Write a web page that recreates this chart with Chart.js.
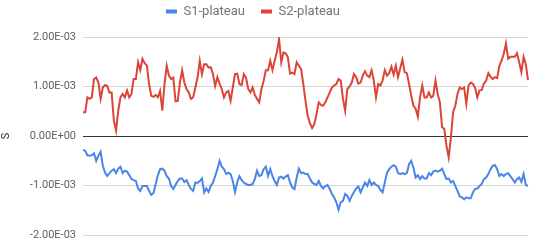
<!DOCTYPE html>
<html>
<head>
<meta charset="utf-8">
<script src="https://cdn.jsdelivr.net/npm/chart.js@4.4.1/dist/chart.umd.min.js"></script>
<style>
html,body{margin:0;padding:0;background:#fff;}
#wrap{position:relative;width:539px;height:246px;}
</style>
</head>
<body>
<div id="wrap"><canvas id="c" width="539" height="246"></canvas></div>
<script>
// Series values in units of 1E-03
const s2Plateau = [
0.48,0.48,0.78,0.75,0.78,1.15,1.18,1.08,0.75,0.98,
1.03,1.01,0.88,0.88,0.31,0.11,0.51,0.78,0.85,0.78,
0.92,0.78,0.85,1.15,1.15,1.49,1.33,1.56,1.47,1.42,
1.05,0.81,0.79,0.83,0.78,0.91,0.51,1.05,1.42,1.22,
1.15,1.18,0.70,0.71,1.08,1.33,1.08,0.95,0.88,0.75,
0.78,0.98,1.18,1.52,1.25,1.45,1.45,1.38,1.39,1.25,
1.01,1.19,1.06,0.95,0.78,0.88,0.91,0.71,0.98,1.25,
1.26,1.05,1.03,1.25,1.18,0.95,0.88,0.98,0.83,0.75,
0.68,0.95,1.11,1.33,1.33,1.52,1.33,1.52,1.69,1.96,
1.49,1.69,1.67,1.59,1.26,1.28,1.25,1.49,1.42,1.35,
1.05,0.71,0.41,0.26,0.16,0.24,0.44,0.68,0.63,0.61,
0.68,0.78,0.88,0.98,1.02,1.05,1.15,1.12,0.75,0.51,
0.95,1.00,1.08,1.25,1.19,1.06,1.08,1.22,1.31,1.22,
1.19,1.33,1.12,0.78,1.05,1.02,1.12,1.33,1.22,1.27,
1.40,1.24,1.42,1.19,1.37,1.54,1.29,1.27,1.05,0.81,
0.61,0.55,0.39,0.78,1.02,0.78,0.78,0.88,0.78,0.81,
1.12,0.85,0.68,0.18,0.14,-0.20,-0.43,-0.03,0.48,0.61,
0.85,0.98,0.95,0.98,0.65,1.02,1.08,1.05,0.97,0.78,
0.92,0.93,1.06,1.12,1.27,1.20,1.15,1.19,1.17,1.42,
1.52,1.66,1.87,1.56,1.60,1.60,1.60,1.67,1.49,1.29,
1.60,1.45,1.13
];
const s1Plateau = [
-0.28,-0.30,-0.39,-0.40,-0.39,-0.35,-0.50,-0.40,-0.32,-0.60,
-0.74,-0.81,-0.75,-0.70,-0.67,-0.75,-0.66,-0.62,-0.75,-0.70,
-0.72,-0.79,-0.87,-0.89,-0.91,-1.06,-1.11,-1.01,-1.01,-1.01,
-1.11,-1.19,-1.15,-0.97,-0.79,-0.67,-0.66,-0.70,-0.81,-0.86,
-1.01,-1.07,-0.99,-0.91,-0.86,-0.86,-0.93,-0.89,-0.99,-1.07,
-1.11,-0.94,-0.95,-0.91,-0.86,-1.14,-1.06,-1.13,-1.01,-0.94,
-0.81,-0.67,-0.50,-0.62,-0.67,-0.77,-0.74,-0.77,-0.91,-1.13,
-0.94,-0.81,-0.89,-0.94,-0.97,-0.99,-0.99,-0.97,-0.87,-0.70,
-0.81,-0.79,-0.67,-0.62,-0.81,-0.67,-0.81,-0.91,-0.99,-0.84,
-0.82,-0.86,-0.82,-0.79,-0.94,-1.04,-1.07,-0.84,-0.66,-0.75,
-0.74,-0.77,-0.77,-0.86,-0.94,-0.97,-0.99,-0.91,-1.01,-1.06,
-1.01,-0.99,-1.07,-1.17,-1.24,-1.34,-1.49,-1.34,-1.31,-1.17,
-1.21,-1.31,-1.21,-1.13,-1.06,-1.02,-1.14,-1.04,-0.94,-1.01,
-0.89,-0.99,-0.94,-0.99,-1.01,-1.09,-1.14,-0.94,-0.74,-0.67,
-0.62,-0.59,-0.62,-0.75,-0.77,-0.75,-0.77,-0.75,-0.57,-0.50,
-0.64,-0.84,-0.79,-0.87,-0.81,-0.86,-0.86,-0.75,-0.79,-0.72,
-0.70,-0.72,-0.70,-0.66,-0.77,-0.87,-0.86,-0.94,-0.91,-1.01,
-1.11,-1.22,-1.24,-1.28,-1.24,-1.26,-1.26,-1.14,-1.07,-1.06,
-1.01,-0.97,-0.87,-0.84,-0.77,-0.67,-0.60,-0.59,-0.67,-0.81,
-0.77,-0.81,-0.77,-0.75,-0.81,-0.87,-0.94,-0.87,-0.84,-0.93,
-0.77,-0.99,-1.01
];
const scaleFactor = 1e-3;
const tickValues = [-0.002, -0.001, 0, 0.001, 0.002];
const tickLabels = ["-2.00E-03", "-1.00E-03", "0.00E+00", "1.00E-03", "2.00E-03"];
const seriesNames = ["S1-plateau", "S2-plateau"];
const seriesColors = ["#4a86e8", "#db4437"];
const axisTitle = "S";

const n = Math.max(s1Plateau.length, s2Plateau.length);
const categories = Array.from({length: n}, (_, i) => String(i + 1));

const FONT = "Roboto, 'Noto Sans', Arial, sans-serif";

// Layout tweaks for the legend (box height and drawing offset)
const legendTweak = {
  id: 'legendTweak',
  beforeLayout(chart) {
    const lg = chart.legend;
    if (lg && !lg._patched) {
      const f = lg.fit;
      lg.fit = function() { f.call(this); this.height = 37; };
      lg._patched = true;
    }
  },
  afterLayout(chart) {
    const lg = chart.legend;
    if (lg) {
      lg.top -= 11; lg.bottom -= 11;
      lg.left -= 11; lg.right -= 11;
    }
  }
};

new Chart(document.getElementById('c'), {
  type: 'line',
  data: {
    labels: categories,
    datasets: [
      {label: seriesNames[0], data: s1Plateau.map(v => v * scaleFactor), borderColor: seriesColors[0], backgroundColor: seriesColors[0], borderWidth: 2, pointRadius: 0, tension: 0, fill: false},
      {label: seriesNames[1], data: s2Plateau.map(v => v * scaleFactor), borderColor: seriesColors[1], backgroundColor: seriesColors[1], borderWidth: 2, pointRadius: 0, tension: 0, fill: false}
    ]
  },
  plugins: [legendTweak],
  options: {
    responsive: false,
    animation: false,
    devicePixelRatio: 1,
    layout: {padding: {left: 0, right: 11, top: 0, bottom: 11}},
    plugins: {
      tooltip: {enabled: false},
      legend: {
        display: true,
        position: 'top',
        labels: {
          boxWidth: 11,
          boxHeight: 4,
          padding: 16,
          color: '#757575',
          font: {family: FONT, size: 13},
          generateLabels: (chart) => Chart.defaults.plugins.legend.labels.generateLabels(chart).map(l => Object.assign(l, {lineWidth: 0}))
        }
      }
    },
    scales: {
      x: {display: false},
      y: {
        min: -0.002,
        max: 0.002,
        afterBuildTicks: (axis) => { axis.ticks = tickValues.map(v => ({value: v})); },
        afterFit: (axis) => { axis.width = 83; axis.paddingTop = 0; axis.paddingBottom = 0; },
        ticks: {
          color: '#5f5f5f',
          font: {family: FONT, size: 11},
          padding: 7,
          callback: (value) => {
            const idx = tickValues.findIndex(t => Math.abs(t - value) < 1e-9);
            return idx >= 0 ? tickLabels[idx] : '';
          }
        },
        border: {display: false},
        grid: {
          drawTicks: false,
          color: (ctx) => (ctx.tick && Math.abs(ctx.tick.value) < 1e-12) ? '#333333' : '#d6d6d6',
          lineWidth: 1
        },
        title: {display: true, text: axisTitle, color: '#333', font: {family: FONT, size: 11}, padding: 0}
      }
    }
  }
});
</script>
</body>
</html>
